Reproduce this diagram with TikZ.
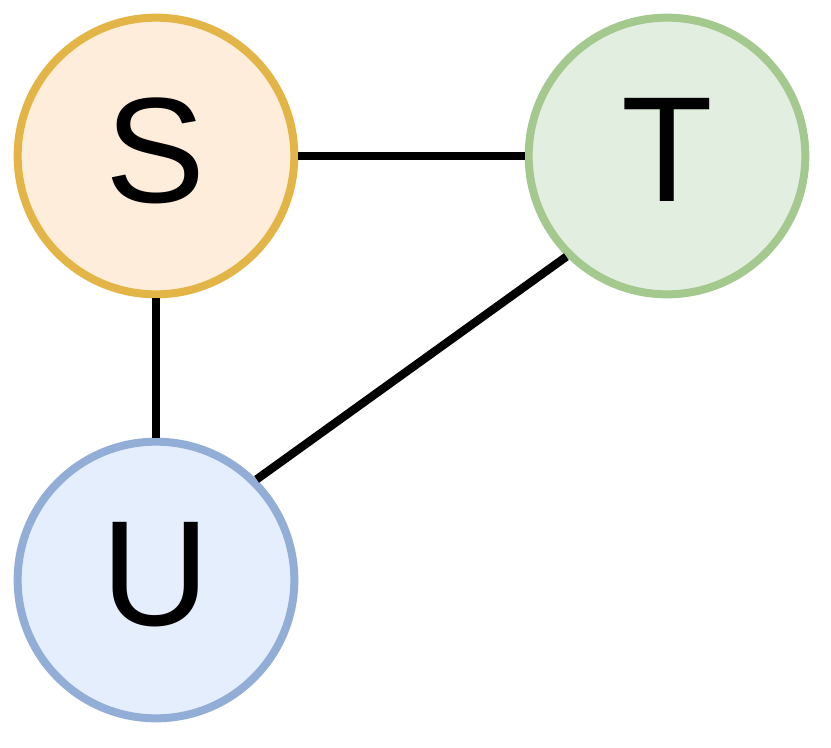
\documentclass[tikz,border=0pt]{standalone}
\usepackage{fontspec}
\setmainfont{Liberation Sans}
\usetikzlibrary{positioning}
\definecolor{sfill}{HTML}{FFEDDC}
\definecolor{sline}{HTML}{E3B446}
\definecolor{tfill}{HTML}{E2EEDF}
\definecolor{tline}{HTML}{A3C98E}
\definecolor{ufill}{HTML}{E4EEFC}
\definecolor{uline}{HTML}{93AED6}
\tikzset{
    vertex/.style={circle, line width=0.24cm, minimum size=8.3cm, inner sep=0pt,
        font=\fontsize{128}{128}\selectfont, text depth=0.35cm},
    edge/.style={line width=0.25cm, black}
}
\begin{document}
\begin{tikzpicture}[x=0.03cm, y=-0.03cm]
    \useasboundingbox (0,0) rectangle (831,747);
    % Vertices
    \node[vertex, draw=sline, fill=sfill] (s) at (156,156) {S};
    \node[vertex, draw=tline, fill=tfill] (t) at (667,156) {T};
    \node[vertex, draw=uline, fill=ufill] (u) at (156,580) {U};
    % Edges
    \draw[edge] (s) -- (t);
    \draw[edge] (s) -- (u);
    \draw[edge] (t.225) -- (u.45);
\end{tikzpicture}
\end{document}
